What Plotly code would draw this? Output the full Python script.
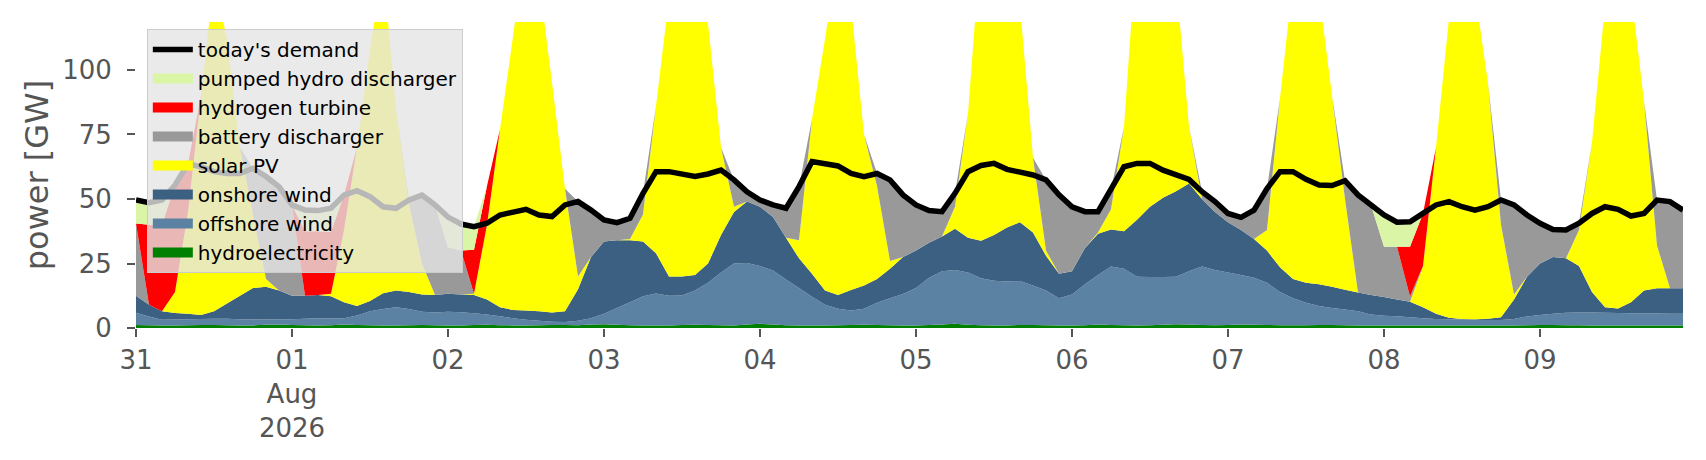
# supply stack vs demand, 31 Jul - 09 Aug 2026 (2-hourly readings)

import pandas as pd
import plotly.graph_objects as go

# --- time index ---
times = pd.date_range("2026-07-31 00:00", periods=120, freq="2h")
day_ticks = pd.date_range("2026-07-31", periods=10, freq="D")
day_labels = ["31", "01<br>Aug<br>2026", "02", "03", "04", "05", "06", "07", "08", "09"]

# --- generation by carrier [GW], stacked bottom -> top ---
hydro = [1.2, 1.1, 1.0, 1.0, 1.1, 1.2, 1.2, 1.1, 1.0, 1.0, 1.3, 1.4,
         1.2, 1.1, 1.0, 1.1, 1.4, 1.2, 1.1, 1.0, 1.0, 1.1, 1.2, 1.1,
         1.0, 1.0, 1.2, 1.3, 1.1, 1.0, 1.0, 1.1, 1.2, 1.2, 1.1, 1.4,
         1.5, 1.3, 1.1, 1.0, 1.0, 1.0, 1.2, 1.3, 1.2, 1.1, 1.0, 1.4,
         1.6, 1.4, 1.1, 1.0, 1.0, 1.0, 1.1, 1.2, 1.3, 1.2, 1.1, 1.0,
         1.0, 1.2, 1.4, 1.6, 1.3, 1.1, 1.0, 1.0, 1.2, 1.2, 1.1, 1.0,
         1.0, 1.1, 1.4, 1.2, 1.1, 1.0, 1.1, 1.3, 1.5, 1.4, 1.2, 1.1,
         1.2, 1.4, 1.3, 1.2, 1.1, 1.1, 1.1, 1.2, 1.2, 1.1, 1.0, 1.0,
         1.0, 1.0, 1.0, 1.0, 1.0, 1.0, 1.0, 1.0, 1.0, 1.0, 1.0, 1.1,
         1.2, 1.2, 1.1, 1.1, 1.0, 1.0, 1.0, 1.0, 1.0, 1.0, 1.0, 1.0]

offshore = [4.7, 3.4, 2.2, 2.3, 2.3, 2.3, 2.4, 2.5, 2.4, 2.3, 2.0, 2.0,
            2.2, 2.5, 2.8, 2.6, 2.4, 3.6, 5.4, 6.4, 7.0, 6.3, 5.1, 4.9,
            5.3, 5.1, 4.5, 3.9, 3.5, 2.8, 2.2, 1.7, 1.2, 1.1, 1.7, 2.4,
            4.0, 6.5, 8.9, 11.3, 12.4, 11.5, 11.4, 13.2, 16.3, 20.4, 24.0, 23.8,
            22.4, 20.9, 17.7, 14.5, 11.1, 8.0, 6.4, 5.6, 6.2, 8.6, 10.4, 12.2,
            14.5, 18.3, 20.6, 20.9, 20.2, 18.2, 17.3, 17.0, 17.0, 15.3, 13.4, 10.5,
            12.0, 15.9, 19.1, 22.6, 21.9, 18.9, 18.7, 18.5, 18.4, 20.6, 22.6, 21.4,
            20.3, 19.1, 18.2, 16.3, 12.9, 10.4, 8.7, 7.3, 6.6, 6.1, 5.5, 4.2,
            3.7, 3.6, 3.2, 2.8, 2.5, 2.4, 2.3, 2.2, 2.1, 2.1, 2.5, 3.4,
            3.8, 4.3, 4.8, 4.9, 5.0, 4.9, 4.8, 4.7, 4.7, 4.6, 4.5, 4.5]

onshore = [6.6, 4.5, 3.3, 2.5, 2.1, 1.5, 2.9, 5.9, 9.1, 12.2, 12.7, 11.1,
           9.1, 8.9, 9.0, 8.6, 6.2, 3.7, 4.0, 6.1, 6.5, 6.6, 6.7, 6.8,
           7.0, 6.9, 7.1, 5.8, 3.4, 3.2, 3.6, 3.7, 3.6, 4.2, 12.2, 23.7,
           28.0, 26.2, 24.0, 21.2, 15.6, 7.5, 7.4, 6.0, 7.5, 14.5, 20.0, 23.8,
           23.0, 20.7, 16.2, 11.5, 8.9, 5.5, 5.3, 7.9, 9.0, 9.2, 11.5, 14.3,
           14.5, 13.5, 13.5, 16.0, 13.5, 14.5, 17.7, 21.0, 22.8, 20.5, 13.5, 9.5,
           9.0, 14.0, 16.0, 14.4, 14.5, 22.1, 27.2, 30.7, 33.1, 34.0, 26.2, 22.5,
           19.5, 17.5, 15.0, 12.5, 9.5, 7.5, 7.7, 8.5, 8.2, 7.6, 7.3, 7.6,
           7.3, 6.4, 6.0, 4.2, 2.0, 0.6, 0.2, 0.2, 0.5, 1.1, 7.5, 15.4,
           20.0, 22.0, 21.1, 18.0, 8.0, 2.1, 1.8, 4.3, 8.8, 9.8, 9.9, 9.9]

solar = [0, 0, 0, 8.2, 39.5, 85, 128.5, 102.5, 57.5, 28.5, 3, 0,
         0, 0, 0, 1.0, 28, 61.5, 97.5, 126.5, 70.5, 34, 12, 0,
         0, 0, 0.5, 29, 69, 106, 143.2, 128.5, 89, 47.5, 5, 0,
         0, 0, 0.5, 10.5, 57, 108, 130, 119.5, 93, 34, 2, 0,
         0, 0, 0, 7, 60, 97.5, 132.2, 110.3, 58.5, 36, 3, 0,
         0, 0, 0, 8.5, 48, 116.2, 134, 121, 84, 29, 2, 0,
         0, 0, 0.5, 7.8, 40.5, 108, 128, 119.5, 82, 22, 0, 0,
         0, 0, 0, 8, 65.5, 116, 142.5, 113, 74, 35.2, 0, 0,
         0, 0, 0, 16, 64.5, 116, 156.5, 126.6, 91.4, 35.8, 2, 0,
         0, 0, 0, 14, 58, 117, 152.4, 120, 73.5, 16.6, 0, 0]

battery = [28.0, 0, 0, 0, 0, 0, 0, 0, 0, 17.9, 39.7, 40.3,
           35.2, 0, 0, 0, 0, 0, 0, 0, 0, 1.6, 26.5, 34.9,
           18.0, 17.0, 0, 0, 0, 0, 0, 0, 0, 0, 29.0, 18.2,
           8.4, 6.8, 8.0, 8.2, 0, 0, 0, 0, 0, 0, 10.4, 3.8,
           2.6, 4.7, 11.4, 20.8, 0, 0, 0, 0, 0, 4.9, 31.4, 24.1,
           17.7, 12.5, 9.6, 5.2, 0, 0, 0, 0, 0, 0, 27.4, 30.6,
           25.0, 14.1, 8.1, 7.5, 0, 0, 0, 0, 0, 0, 2.8, 4.0,
           3.4, 4.9, 11.2, 16.0, 0, 0, 0, 0, 0, 7.1, 37.8, 34.9,
           19.5, 20.5, 2.0, 0, 0, 0, 0, 0, 0, 9.6, 34.7, 23.9,
           15.6, 10.7, 11.0, 2.6, 0, 0, 0, 0, 0, 17.6, 33.6, 30.3]

hydrogen = [0, 31.0, 33.5, 41.4, 18.6, 0, 0, 0, 0, 0, 0, 0,
            0, 25.0, 24.7, 24.0, 13.5, 0, 0, 0, 0, 0, 0, 0,
            0, 0, 17.0, 15.0, 0, 0, 0, 0, 0, 0, 0, 0,
            0, 0, 0, 0, 0, 0, 0, 0, 0, 0, 0, 0,
            0, 0, 0, 0, 0, 0, 0, 0, 0, 0, 0, 0,
            0, 0, 0, 0, 0, 0, 0, 0, 0, 0, 0, 0,
            0, 0, 0, 0, 0, 0, 0, 0, 0, 0, 0, 0,
            0, 0, 0, 0, 0, 0, 0, 0, 0, 0, 0, 0,
            0, 0, 19.3, 20.4, 0, 0, 0, 0, 0, 0, 0, 0,
            0, 0, 0, 0, 0, 0, 0, 0, 0, 0, 0, 0]

pumped_hydro = [9.1, 8.6, 9.6, 0, 0, 0, 0, 0, 0, 0, 0, 0,
                0, 8.2, 8.0, 9.1, 0, 0, 0, 0, 0, 0, 0, 0,
                11.7, 10.3, 9.0, 0, 0, 0, 0, 0, 0, 0, 0, 0,
                0, 0, 0, 0, 0, 0, 0, 0, 0, 0, 0, 0,
                0, 0, 0, 0, 0, 0, 0, 0, 0, 0, 0, 0,
                0, 0, 0, 0, 0, 0, 0, 0, 0, 0, 0, 0,
                0, 0, 0, 0, 0, 0, 0, 0, 0, 0, 0, 0,
                0, 0, 0, 0, 0, 0, 0, 0, 0, 0, 0, 0,
                12.3, 9.5, 9.7, 0, 0, 0, 0, 0, 0, 0, 0, 0,
                0, 0, 0, 0, 0, 0, 0, 0, 0, 0, 0, 0]

demand = [49.6, 48.6, 49.6, 55.4, 63.6, 62.5, 60.6, 59.9, 59.9, 61.9, 58.7, 54.8,
          47.7, 45.7, 45.5, 46.4, 51.5, 53.2, 50.9, 47.0, 46.4, 49.6, 51.5, 47.7,
          43.0, 40.3, 39.3, 40.6, 43.8, 45.1, 46.0, 43.8, 43.2, 47.7, 49.0, 45.7,
          41.9, 40.8, 42.5, 52.2, 60.6, 60.6, 59.9, 58.7, 59.7, 61.2, 57.4, 52.8,
          49.6, 47.7, 46.4, 54.8, 64.5, 63.8, 62.8, 59.9, 58.7, 59.9, 57.4, 51.6,
          47.7, 45.5, 45.1, 52.2, 60.6, 63.0, 63.8, 61.5, 60.6, 59.3, 57.4, 51.6,
          47.0, 45.1, 45.1, 53.5, 62.5, 63.8, 63.8, 61.2, 59.3, 57.6, 52.8, 49.0,
          44.4, 42.9, 45.7, 54.0, 60.6, 60.6, 57.6, 55.4, 55.2, 57.1, 51.6, 47.7,
          43.8, 41.0, 41.2, 44.4, 47.7, 49.0, 47.0, 45.7, 47.0, 49.6, 47.7, 43.8,
          40.6, 38.2, 38.0, 40.6, 44.4, 47.0, 46.0, 43.4, 44.4, 49.6, 49.0, 45.7]

carriers = [
    ("hydroelectricity", hydro, "#008000"),
    ("offshore wind", offshore, "#5b81a3"),
    ("onshore wind", onshore, "#3c6082"),
    ("solar PV", solar, "#ffff00"),
    ("battery discharger", battery, "#999999"),
    ("hydrogen turbine", hydrogen, "#ff0000"),
    ("pumped hydro discharger", pumped_hydro, "#daf5a6"),
]

fig = go.Figure()

# stacked areas (legend handled by the patch-like entries below)
for name, values, colour in carriers:
    fig.add_trace(go.Scatter(
        x=times, y=values, name=name, legendgroup=name, showlegend=False,
        stackgroup="supply", mode="none", fillcolor=colour,
    ))

# legend entries drawn as thick bars so they look like patches
for name, values, colour in carriers:
    fig.add_trace(go.Scatter(
        x=[None], y=[None], name=name, legendgroup=name,
        mode="lines", line=dict(color=colour, width=13),
    ))

fig.add_trace(go.Scatter(
    x=times, y=demand, name="today's demand",
    mode="lines", line=dict(color="black", width=5.5),
))

grey = "#555555"
fig.update_layout(
    width=1706, height=460,
    margin=dict(l=136, r=23, t=22, b=132),
    paper_bgcolor="white", plot_bgcolor="white",
    font=dict(family="DejaVu Sans", color=grey),
    legend=dict(
        x=0.007, y=0.977, xanchor="left", yanchor="top",
        bgcolor="rgba(229,229,229,0.8)", bordercolor="#cccccc", borderwidth=1,
        font=dict(size=20, color="black"), traceorder="reversed", itemwidth=40,
    ),
)

fig.update_xaxes(
    type="date", range=[times[0], times[-1]],
    tickvals=day_ticks, ticktext=day_labels,
    ticks="outside", ticklen=8, tickwidth=2, tickcolor=grey,
    tickfont=dict(size=26, color=grey), ticklabelstandoff=1,
    showgrid=False, showline=False, zeroline=False,
)
fig.update_yaxes(
    range=[0, 118.6], tickvals=[0, 25, 50, 75, 100],
    ticks="outside", ticklen=8, tickwidth=2, tickcolor=grey,
    tickfont=dict(size=26, color=grey), ticklabelstandoff=10,
    showgrid=False, showline=False, zeroline=False,
    title=dict(text="power [GW]", font=dict(size=32, color=grey), standoff=3),
)

# page has a default 8px body margin; remove it so the figure sits at 0,0
fig.write_html(
    "out.html",
    config={"displayModeBar": False},
    post_script="document.body.style.margin='0';",
)
